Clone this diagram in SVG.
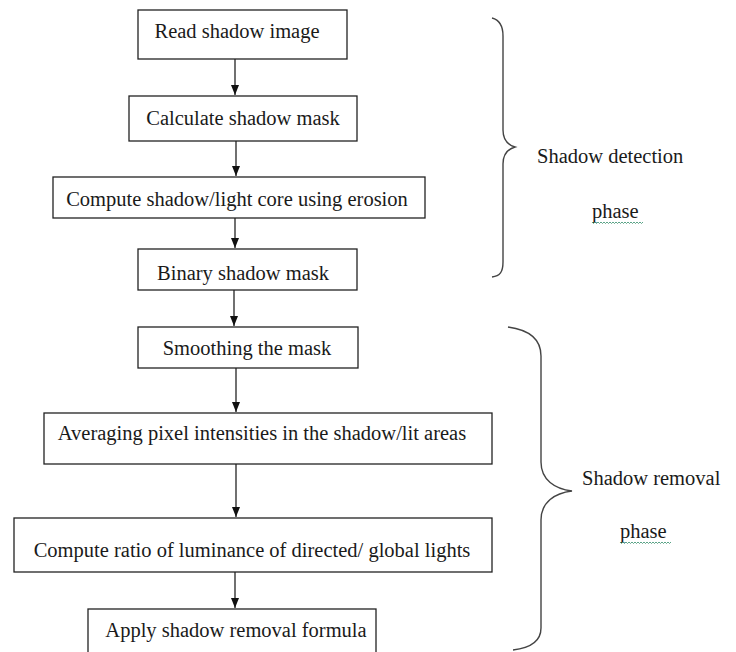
<svg xmlns="http://www.w3.org/2000/svg" width="736" height="652" viewBox="0 0 736 652">
<style>
.box{fill:#fff;stroke:#222;stroke-width:1.3}
text{font-family:'Liberation Serif','Times New Roman','DejaVu Serif',serif;font-size:20.5px;fill:#1a1a1a}
.t{text-anchor:middle}
.c{stroke:#111;stroke-width:1.2;fill:none}
.br{stroke:#444;stroke-width:1.4;fill:none}
.sq{stroke:#4a9a7a;stroke-width:0.9;fill:none}
</style>
<defs>
<marker id="ah" viewBox="0 0 10 8" refX="10" refY="4" markerWidth="10" markerHeight="8" markerUnits="userSpaceOnUse" orient="auto">
<path d="M0,0 L10,4 L0,8 z" fill="#111"/>
</marker>
<clipPath id="clip4"><rect x="138" y="249" width="219" height="36"/></clipPath>
</defs>
<rect width="736" height="652" fill="#fff"/>
<g id="connectors">
<line class="c" x1="235" y1="59" x2="235" y2="95" marker-end="url(#ah)"/>
<line class="c" x1="236" y1="141" x2="236" y2="176" marker-end="url(#ah)"/>
<line class="c" x1="235" y1="218" x2="235" y2="248" marker-end="url(#ah)"/>
<line class="c" x1="234" y1="290" x2="234" y2="326" marker-end="url(#ah)"/>
<line class="c" x1="236" y1="368" x2="236" y2="412" marker-end="url(#ah)"/>
<line class="c" x1="236" y1="464" x2="236" y2="517" marker-end="url(#ah)"/>
<line class="c" x1="235" y1="572" x2="235" y2="608" marker-end="url(#ah)"/>
</g>
<g id="n1"><rect class="box" x="138" y="10" width="209" height="49"/><text class="t" x="237" y="38" font-family="Liberation Serif, serif">Read shadow image</text></g>
<g id="n2"><rect class="box" x="129" y="96" width="228" height="45"/><text class="t" x="243" y="125">Calculate shadow mask</text></g>
<g id="n3"><rect class="box" x="53" y="177" width="372" height="41"/><text class="t" x="237" y="206">Compute shadow/light core using erosion</text></g>
<g id="n4"><rect class="box" x="138" y="249" width="219" height="41"/><text class="t" x="243" y="280" clip-path="url(#clip4)">Binary shadow mask</text></g>
<g id="n5"><rect class="box" x="138" y="327" width="220" height="41"/><text class="t" x="247" y="355">Smoothing the mask</text></g>
<g id="n6"><rect class="box" x="44" y="413" width="448" height="51"/><text class="t" x="262" y="440">Averaging pixel intensities in the shadow/lit areas</text></g>
<g id="n7"><rect class="box" x="14" y="518" width="478" height="54"/><text class="t" x="252" y="557">Compute ratio of luminance of directed/ global lights</text></g>
<g id="n8"><rect class="box" x="88" y="609" width="288" height="60"/><text class="t" x="236" y="637">Apply shadow removal formula</text></g>
<g id="brace-detection">
<path class="br" d="M492,18 C500,20 503,26 503,36 L503,130 C503,140 508,145 515,147 C508,149 503,154 503,164 L503,262 C503,272 500,276 492,277"/>
<text x="537" y="163">Shadow detection</text>
<text x="592" y="218">phase</text>
<path class="sq" d="M592,222 l1.5,1.5 l1.5,-1.5 l1.5,1.5 l1.5,-1.5 l1.5,1.5 l1.5,-1.5 l1.5,1.5 l1.5,-1.5 l1.5,1.5 l1.5,-1.5 l1.5,1.5 l1.5,-1.5 l1.5,1.5 l1.5,-1.5 l1.5,1.5 l1.5,-1.5 l1.5,1.5 l1.5,-1.5 l1.5,1.5 l1.5,-1.5 l1.5,1.5 l1.5,-1.5 l1.5,1.5 l1.5,-1.5 l1.5,1.5 l1.5,-1.5 l1.5,1.5 l1.5,-1.5 l1.5,1.5 l1.5,-1.5 l1.5,1.5 l1.5,-1.5 l1.5,1.5 l1.5,-1.5"/>
</g>
<g id="brace-removal">
<path class="br" d="M508,327 C530,330 541,340 541,356 L541,462 C541,480 555,489 572,491 C555,493 541,502 541,520 L541,628 C541,642 530,648 513,650"/>
<text x="582" y="485">Shadow removal</text>
<text x="620" y="538">phase</text>
<path class="sq" d="M620,542 l1.5,1.5 l1.5,-1.5 l1.5,1.5 l1.5,-1.5 l1.5,1.5 l1.5,-1.5 l1.5,1.5 l1.5,-1.5 l1.5,1.5 l1.5,-1.5 l1.5,1.5 l1.5,-1.5 l1.5,1.5 l1.5,-1.5 l1.5,1.5 l1.5,-1.5 l1.5,1.5 l1.5,-1.5 l1.5,1.5 l1.5,-1.5 l1.5,1.5 l1.5,-1.5 l1.5,1.5 l1.5,-1.5 l1.5,1.5 l1.5,-1.5 l1.5,1.5 l1.5,-1.5 l1.5,1.5 l1.5,-1.5 l1.5,1.5 l1.5,-1.5 l1.5,1.5 l1.5,-1.5"/>
</g>
</svg>
